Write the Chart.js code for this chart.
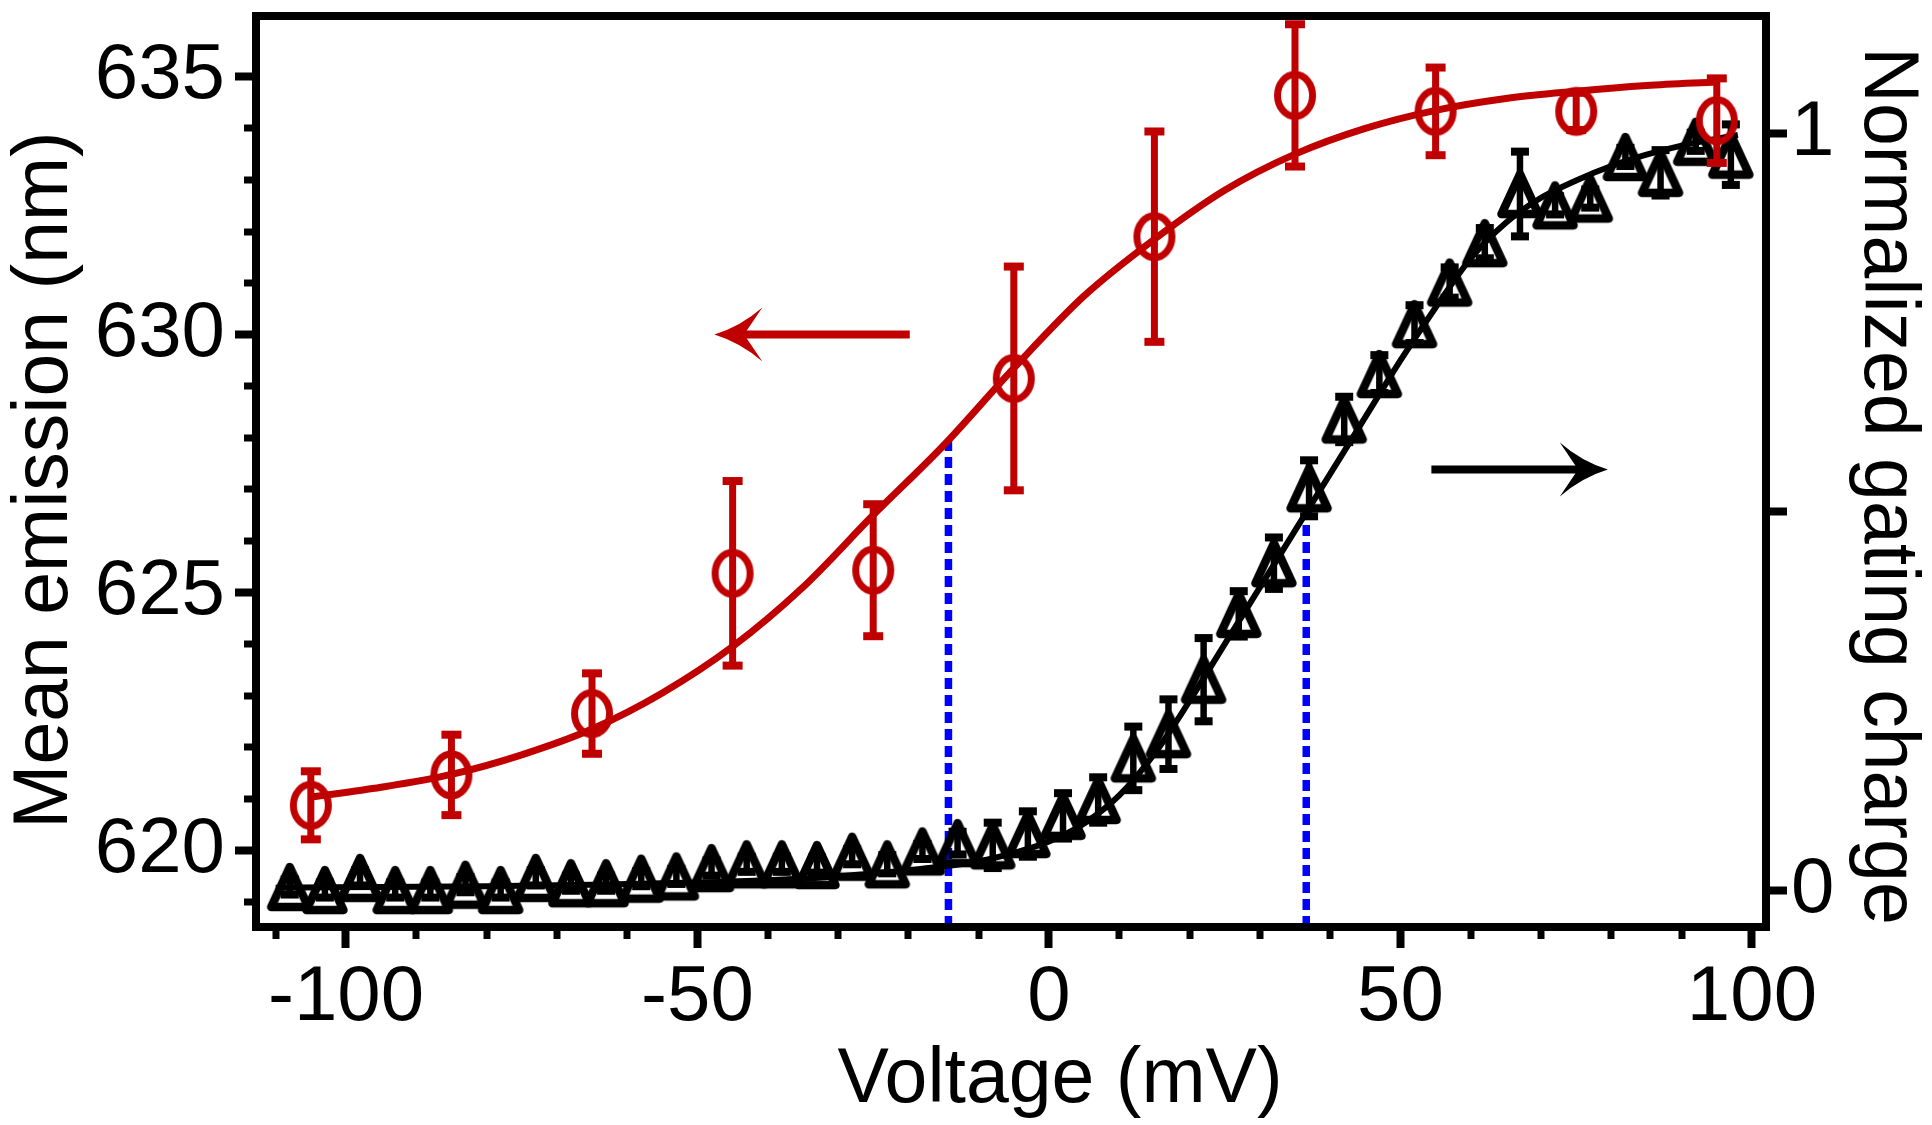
<!DOCTYPE html>
<html><head><meta charset="utf-8">
<script src="https://cdn.jsdelivr.net/npm/chart.js@4.4.1/dist/chart.umd.min.js"></script>
<style>html,body{margin:0;padding:0;background:#fff;}canvas{display:block;}</style>
</head><body>
<canvas id="c" width="1932" height="1125"></canvas>
<script>
// ---------- data ----------
const emissionVoltage = [-105, -85, -65, -45, -25, -5, 15, 35, 55, 75, 95];
const emissionMean    = [620.87, 621.46, 622.65, 625.37, 625.43, 629.15, 631.90, 634.64, 634.33, 634.33, 634.15];
const emissionErr     = [0.66, 0.78, 0.78, 1.79, 1.28, 2.17, 2.04, 1.38, 0.85, 0.36, 0.82];

const emissionFitVoltage = [-105, -95, -85, -75, -65, -55, -45, -35, -25, -15, -5, 5, 15, 25, 35, 45, 55, 65, 75, 85, 95];
const emissionFitValue   = [621.03, 621.22, 621.47, 621.85, 622.35, 623.05, 623.95, 625.10, 626.50, 627.85, 629.35, 630.75, 631.85, 632.80, 633.50, 634.00, 634.35, 634.58, 634.72, 634.83, 634.90];

const chargeVoltage = [-108, -103, -98, -93, -88, -83, -78, -73, -68, -63, -58, -53, -48, -43, -38, -33, -28, -23, -18, -13, -8, -3, 2, 7, 12, 17, 22, 27, 32, 37, 42, 47, 52, 57, 62, 67, 72, 77, 82, 87, 92, 97];
const chargeValue   = [0.004, 0.000, 0.016, 0.000, 0.000, 0.007, 0.000, 0.016, 0.009, 0.009, 0.015, 0.018, 0.029, 0.034, 0.034, 0.033, 0.044, 0.034, 0.051, 0.062, 0.059, 0.074, 0.098, 0.119, 0.174, 0.206, 0.278, 0.365, 0.432, 0.531, 0.622, 0.682, 0.748, 0.803, 0.855, 0.920, 0.905, 0.914, 0.969, 0.948, 0.989, 0.972];
const chargeErr     = [0.01, 0.01, 0.01, 0.01, 0.01, 0.01, 0.01, 0.01, 0.01, 0.01, 0.01, 0.01, 0.01, 0.01, 0.01, 0.01, 0.01, 0.012, 0.01, 0.015, 0.03, 0.03, 0.03, 0.03, 0.042, 0.046, 0.055, 0.03, 0.034, 0.037, 0.03, 0.025, 0.025, 0.02, 0.02, 0.056, 0.012, 0.012, 0.012, 0.03, 0.012, 0.04];

const chargeFitVoltage = [-110, -95, -80, -65, -50, -40, -30, -20, -10, -5, 0, 5, 10, 15, 20, 25, 30, 35, 40, 45, 50, 55, 60, 65, 70, 75, 80, 85, 90, 98];
const chargeFitValue   = [0.003, 0.004, 0.005, 0.007, 0.010, 0.013, 0.018, 0.026, 0.038, 0.049, 0.064, 0.088, 0.125, 0.180, 0.250, 0.325, 0.400, 0.475, 0.550, 0.625, 0.700, 0.770, 0.835, 0.882, 0.915, 0.938, 0.957, 0.972, 0.984, 0.998];

// half-activation guides (voltage, level reached)
const emissionHalfVoltage = -14.3, emissionHalfLevel = 627.95;
const chargeHalfVoltage = 36.6, chargeHalfLevel = 0.5;

// arrows (tail voltage, tip voltage, level)
const emissionArrow = [-19.8, -47.6];  const emissionArrowLevel = 630;
const chargeArrow   = [54.4, 79.5];    const chargeArrowLevel = 0.556;

// axes
const xRange = [-112.8, 102];
const yRange = [618.51, 636.18];
const y2Range = [-0.0489, 1.1553];
const xMajorTicks = [-100, -50, 0, 50, 100];
const xMinorTicks = [-110, -90, -80, -70, -60, -40, -30, -20, -10, 10, 20, 30, 40, 60, 70, 80, 90];
const yMajorTicks = [620, 625, 630, 635];
const yMinorTicks = [619, 621, 622, 623, 624, 626, 627, 628, 629, 631, 632, 633, 634];
const y2Ticks = [0, 0.5, 1];
const y2Labelled = [0, 1];

const xTitle = 'Voltage (mV)';
const yTitle = 'Mean emission (nm)';
const y2Title = 'Normalized gating charge';

// ---------- styling ----------
const RED = '#C00000', BLACK = '#000000', BLUE = '#0000FF';
const FONT = '"Liberation Sans", Arial, Helvetica, sans-serif';

function makeEllipse(color) {
  const c = document.createElement('canvas'); c.width = 54; c.height = 60;
  const g = c.getContext('2d'); g.strokeStyle = color; g.lineWidth = 7;
  g.beginPath(); g.ellipse(27, 30, 17.5, 21, 0, 0, Math.PI * 2); g.stroke();
  return c;
}
function makeTriangle(color) {
  const c = document.createElement('canvas'); c.width = 56; c.height = 58;
  const g = c.getContext('2d'); g.strokeStyle = color; g.lineWidth = 8.5; g.lineJoin = 'round';
  g.beginPath(); g.moveTo(28, 9); g.lineTo(46.5, 49); g.lineTo(9.5, 49); g.closePath(); g.stroke();
  return c;
}
const pts = (xs, ys) => xs.map((x, i) => ({ x: x, y: ys[i] }));

function drawErr(ctx, xs, ys, X, Y, E, color, lw, capHalf, capH) {
  ctx.save();
  ctx.strokeStyle = color; ctx.fillStyle = color; ctx.lineWidth = lw; ctx.lineCap = 'butt';
  for (let i = 0; i < X.length; i++) {
    const px = xs.getPixelForValue(X[i]);
    const yt = ys.getPixelForValue(Y[i] + E[i]);
    const yb = ys.getPixelForValue(Y[i] - E[i]);
    ctx.beginPath(); ctx.moveTo(px, yt); ctx.lineTo(px, yb); ctx.stroke();
    ctx.fillRect(px - capHalf, yt - capH / 2, capHalf * 2, capH);
    ctx.fillRect(px - capHalf, yb - capH / 2, capHalf * 2, capH);
  }
  ctx.restore();
}
function drawArrow(ctx, x1, x2, y, color) {
  const dir = Math.sign(x2 - x1), len = 48, half = 27;
  const notch = x2 - dir * len * 0.62;
  ctx.save();
  ctx.strokeStyle = color; ctx.fillStyle = color; ctx.lineWidth = 8; ctx.lineCap = 'butt';
  ctx.beginPath(); ctx.moveTo(x1, y); ctx.lineTo(notch + dir * 2, y); ctx.stroke();
  const bx = x2 - dir * len;
  ctx.beginPath();
  ctx.moveTo(x2, y);
  ctx.quadraticCurveTo(x2 - dir * len * 0.55, y - half * 0.3, bx, y - half);
  ctx.lineTo(notch, y);
  ctx.lineTo(bx, y + half);
  ctx.quadraticCurveTo(x2 - dir * len * 0.55, y + half * 0.3, x2, y);
  ctx.closePath(); ctx.fill();
  ctx.restore();
}
function drawTitle(ctx, text, x, y, rot, size) {
  ctx.save();
  ctx.translate(x, y); ctx.rotate(rot);
  ctx.fillStyle = BLACK; ctx.font = size + 'px ' + FONT;
  ctx.textAlign = 'center'; ctx.textBaseline = 'alphabetic';
  ctx.fillText(text, 0, 0);
  ctx.restore();
}

const overlay = {
  id: 'overlay',
  afterDatasetDraw(chart, args) {
    const ctx = chart.ctx, s = chart.scales;
    if (args.index === 0) drawErr(ctx, s.x, s.y, emissionVoltage, emissionMean, emissionErr, RED, 7, 10, 8);
    if (args.index === 2) drawErr(ctx, s.x, s.y2, chargeVoltage, chargeValue, chargeErr, BLACK, 6.5, 9, 8);
  },
  afterDraw(chart) {
    const ctx = chart.ctx, s = chart.scales, a = chart.chartArea;
    ctx.save();
    ctx.strokeStyle = BLACK; ctx.lineWidth = 7; ctx.lineCap = 'butt';
    xMinorTicks.forEach(v => {
      const px = Math.round(s.x.getPixelForValue(v));
      ctx.beginPath(); ctx.moveTo(px, a.bottom); ctx.lineTo(px, a.bottom + 12); ctx.stroke();
    });
    yMinorTicks.forEach(v => {
      const py = Math.round(s.y.getPixelForValue(v));
      ctx.beginPath(); ctx.moveTo(a.left, py); ctx.lineTo(a.left - 12, py); ctx.stroke();
    });
    ctx.lineWidth = 8; ctx.lineJoin = 'miter';
    ctx.strokeRect(a.left, a.top, a.right - a.left, a.bottom - a.top);
    ctx.restore();
    drawArrow(ctx, s.x.getPixelForValue(emissionArrow[0]), s.x.getPixelForValue(emissionArrow[1]), s.y.getPixelForValue(emissionArrowLevel), RED);
    drawArrow(ctx, s.x.getPixelForValue(chargeArrow[0]), s.x.getPixelForValue(chargeArrow[1]), s.y2.getPixelForValue(chargeArrowLevel), BLACK);
    // axis titles
    drawTitle(ctx, xTitle, 1060, 1102, 0, 77);
    drawTitle(ctx, yTitle, 67, 480, -Math.PI / 2, 77);
    drawTitle(ctx, y2Title, 1865, 486, Math.PI / 2, 77);
  }
};

const tickFont = { family: FONT, size: 78 };
const noPadV = sc => { sc.paddingTop = 0; sc.paddingBottom = 0; };
const gridOpts = { display: true, drawOnChartArea: false, drawTicks: true, tickLength: 21, tickWidth: 8, tickColor: BLACK, color: BLACK };

new Chart(document.getElementById('c'), {
  type: 'scatter',
  data: {
    datasets: [
      { label: 'emission', data: pts(emissionVoltage, emissionMean), yAxisID: 'y', showLine: false,
        pointStyle: makeEllipse(RED), pointRadius: 14, borderColor: RED, backgroundColor: RED },
      { label: 'emission fit', data: pts(emissionFitVoltage, emissionFitValue), yAxisID: 'y', showLine: true,
        pointRadius: 0, borderColor: RED, borderWidth: 7, cubicInterpolationMode: 'monotone' },
      { label: 'charge', data: pts(chargeVoltage, chargeValue), yAxisID: 'y2', showLine: false,
        pointStyle: makeTriangle(BLACK), pointRadius: 14, borderColor: BLACK, backgroundColor: BLACK },
      { label: 'charge fit', data: pts(chargeFitVoltage, chargeFitValue), yAxisID: 'y2', showLine: true,
        pointRadius: 0, borderColor: BLACK, borderWidth: 6, cubicInterpolationMode: 'monotone' },
      { label: 'V1/2 emission', data: [{ x: emissionHalfVoltage, y: yRange[0] }, { x: emissionHalfVoltage, y: emissionHalfLevel }],
        yAxisID: 'y', showLine: true, pointRadius: 0, borderColor: BLUE, borderWidth: 7.5, borderDash: [11, 6] },
      { label: 'V1/2 charge', data: [{ x: chargeHalfVoltage, y: y2Range[0] }, { x: chargeHalfVoltage, y: chargeHalfLevel }],
        yAxisID: 'y2', showLine: true, pointRadius: 0, borderColor: BLUE, borderWidth: 7.5, borderDash: [11, 6] }
    ]
  },
  options: {
    responsive: false, animation: false, devicePixelRatio: 1,
    layout: { padding: { left: 0, right: 0, top: 16, bottom: 0 }, autoPadding: false },
    plugins: { legend: { display: false }, tooltip: { enabled: false } },
    scales: {
      x: {
        type: 'linear', position: 'bottom', min: xRange[0], max: xRange[1],
        afterBuildTicks: sc => { sc.ticks = xMajorTicks.map(v => ({ value: v })); },
        afterFit: sc => { sc.height = 198; sc.paddingLeft = 0; sc.paddingRight = 0; },
        ticks: { font: tickFont, color: BLACK, padding: 4, autoSkip: false, maxRotation: 0, callback: v => String(v) },
        grid: gridOpts,
        border: { display: false },
        title: { display: false }
      },
      y: {
        type: 'linear', position: 'left', min: yRange[0], max: yRange[1],
        afterBuildTicks: sc => { sc.ticks = yMajorTicks.map(v => ({ value: v })); },
        afterFit: sc => { sc.width = 256; noPadV(sc); },
        ticks: { font: tickFont, color: BLACK, padding: 10, callback: v => String(v) },
        grid: gridOpts,
        border: { display: false },
        title: { display: false }
      },
      y2: {
        type: 'linear', position: 'right', min: y2Range[0], max: y2Range[1],
        afterBuildTicks: sc => { sc.ticks = y2Ticks.map(v => ({ value: v })); },
        afterFit: sc => { sc.width = 166; noPadV(sc); },
        ticks: { font: tickFont, color: BLACK, padding: 4, callback: v => (y2Labelled.includes(v) ? String(v) : '') },
        grid: gridOpts,
        border: { display: false },
        title: { display: false }
      }
    }
  },
  plugins: [overlay]
});
</script>
</body></html>
